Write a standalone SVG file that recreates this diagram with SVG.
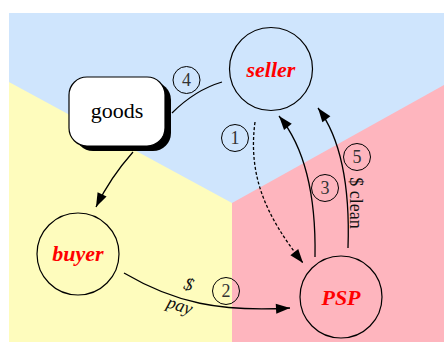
<svg xmlns="http://www.w3.org/2000/svg" width="444" height="342" viewBox="0 0 444 342">
<defs>
<style>
.bg-blue{fill:#cfe5fd}
.bg-yellow{fill:#fefcbd}
.bg-pink{fill:#feb5be}
.node{fill:none;stroke:#000;stroke-width:1.2}
.name{font-family:"Liberation Serif",serif;font-size:22px;font-weight:bold;font-style:italic;fill:#ff0000;text-anchor:middle}
.edge{fill:none;stroke:#000;stroke-width:1.3}
.dash{stroke-dasharray:3,2}
.num{fill:none;stroke:#000;stroke-width:1}
.numt{font-family:"Liberation Serif",serif;font-size:18px;fill:#333;text-anchor:middle}
.lbl{font-family:"Liberation Serif",serif;font-size:18px;fill:#111;text-anchor:middle}
</style>
<marker id="arr" markerUnits="userSpaceOnUse" markerWidth="15" markerHeight="11" refX="14" refY="5" orient="auto" overflow="visible">
<path d="M0,0 L14,5 L0,10 Z" fill="#000"/>
</marker>
</defs>
<g id="background">
<rect class="bg-blue" x="9" y="13" width="435" height="329"/>
<polygon class="bg-yellow" points="9,82 232,203 232,342 9,342"/>
<polygon class="bg-pink" points="232,203 444,85 444,342 232,342"/>
</g>
<g id="connectors">
<path class="edge" d="M172,113 Q195,90 222,82"/>
<path class="edge" d="M133,152 Q110,178 96,207" marker-end="url(#arr)"/>
<path class="edge dash" d="M255,122 C248,175 265,215 303,263" marker-end="url(#arr)"/>
<path class="edge" d="M315,257 C316,200 307,150 279,116" marker-end="url(#arr)"/>
<path class="edge" d="M348,248 C350,190 342,140 318,108" marker-end="url(#arr)"/>
<path class="edge" d="M124,273 C175,303 220,312 290,308" marker-end="url(#arr)"/>
<g id="label4"><circle class="num" cx="186.5" cy="80" r="13.5"/><text class="numt" x="186.5" y="86">4</text></g>
<g id="label1"><circle class="num" cx="235" cy="138" r="13.5"/><text class="numt" x="235" y="144">1</text></g>
<g id="label3"><circle class="num" cx="325" cy="188" r="13.5"/><text class="numt" x="325" y="194">3</text></g>
<g id="label5"><circle class="num" cx="357" cy="157" r="13.5"/><text class="numt" x="357" y="163">5</text></g>
<g id="label2"><circle class="num" cx="226" cy="291" r="13.5"/><text class="numt" x="226" y="297">2</text></g>
<text class="lbl" transform="translate(350,203) rotate(90)" x="0" y="0" font-size="19">$ clean</text>
<text class="lbl" font-style="italic" transform="translate(187,290) rotate(18)">$</text>
<text class="lbl" font-style="italic" transform="translate(178,311) rotate(18)">pay</text>
</g>
<g id="goods">
<rect x="75" y="82" width="96" height="69" rx="18" fill="#000"/>
<rect x="69" y="77" width="96" height="69" rx="18" fill="#fff" stroke="#000" stroke-width="1.2"/>
<text x="117" y="118" font-family="Liberation Serif, serif" font-size="22" text-anchor="middle" fill="#000">goods</text>
</g>
<g id="seller">
<circle class="node" cx="271" cy="69" r="41.5"/>
<text class="name" x="271" y="77">seller</text>
</g>
<g id="buyer">
<circle class="node" cx="78" cy="254" r="41"/>
<text class="name" x="78" y="261">buyer</text>
</g>
<g id="PSP">
<circle class="node" cx="341" cy="297" r="41"/>
<text class="name" x="341" y="305">PSP</text>
</g>
</svg>
